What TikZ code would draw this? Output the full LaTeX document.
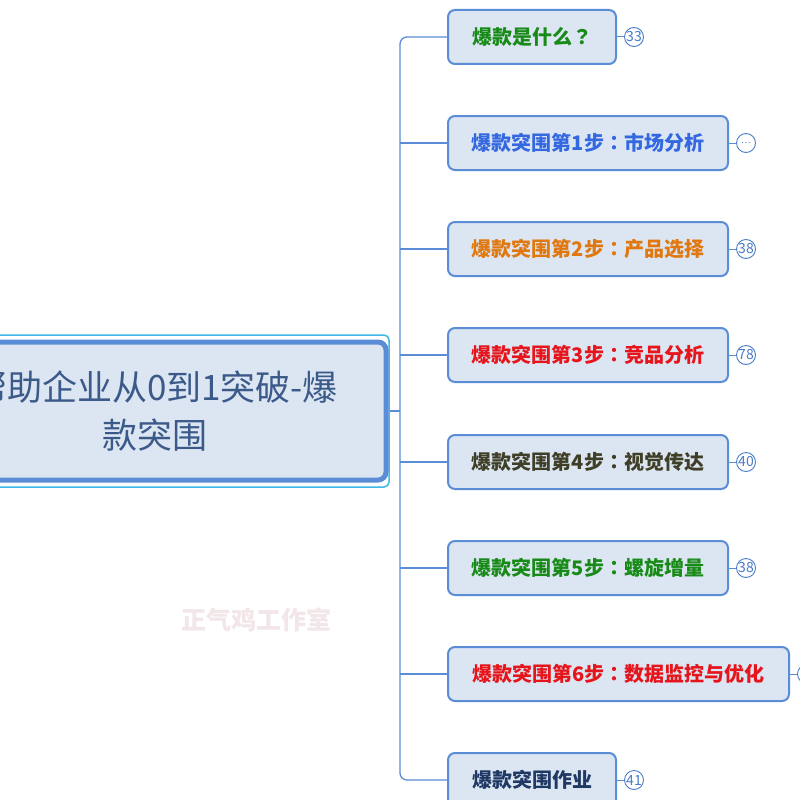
\documentclass[tikz,border=0pt]{standalone}
\usepackage{fontspec}
\setmainfont{Noto Sans CJK SC}
\newfontfamily\tcpunct{Noto Sans CJK TC}
\newcommand{\qcolon}{{\tcpunct ：}}
\newcommand{\qmark}{{\tcpunct ？}}
\definecolor{boxfill}{HTML}{DCE6F2}
\definecolor{boxline}{HTML}{5B8DD6}
\definecolor{framecyan}{HTML}{3DB8E8}
\definecolor{roottext}{HTML}{3B5A8A}
\definecolor{cgreen}{HTML}{178A17}
\definecolor{cblue}{HTML}{3368E0}
\definecolor{corange}{HTML}{E0780F}
\definecolor{cred}{HTML}{E6141B}
\definecolor{colive}{HTML}{3F3F28}
\definecolor{cnavy}{HTML}{1F3864}
\definecolor{badgeblue}{HTML}{4A7CC8}
\definecolor{wmark}{HTML}{F2E6E8}
\tikzset{
  topic/.style={draw=boxline, line width=2pt, fill=boxfill, rounded corners=7pt,
    minimum height=54pt, inner xsep=0pt, anchor=west, font=\fontsize{20}{22}\selectfont\bfseries},
  badge/.style={draw=badgeblue, line width=0.9pt, circle, minimum size=19pt, inner sep=0pt,
    text=badgeblue, font=\fontsize{14}{14}\selectfont},
  conn/.style={draw=boxline, line width=1.3pt},
  bconn/.style={draw=boxline, line width=1pt},
}
\begin{document}
\begin{tikzpicture}[x=1pt,y=-1pt]
\useasboundingbox (0,0) rectangle (800,800);
\clip (0,0) rectangle (800,800);
\fill[white] (0,0) rectangle (800,800);

% watermark
\node[text=wmark, font=\fontsize{25}{26}\selectfont\bfseries] (wm) at (256,620) {正气鸡工作室};

% root
\node[draw=framecyan, line width=1.5pt, rounded corners=5pt, minimum width=472pt, minimum height=152pt] (rootframe) at (153,411) {};
\node[draw=boxline, line width=5pt, fill=boxfill, rounded corners=8pt, minimum width=462pt, minimum height=138pt,
  text=roottext, align=center, font=\fontsize{35}{48}\selectfont] (root) at (155,411) {帮助企业从0到1突破-爆\\款突围};

% topics
\node[topic, minimum width=168pt, text=cgreen] (n1) at (447,37) {爆款是什么\qmark};
\node[topic, minimum width=280pt, text=cblue] (n2) at (447,143) {爆款突围第1步\qcolon 市场分析};
\node[topic, minimum width=280pt, text=corange] (n3) at (447,249) {爆款突围第2步\qcolon 产品选择};
\node[topic, minimum width=280pt, text=cred] (n4) at (447,355) {爆款突围第3步\qcolon 竞品分析};
\node[topic, minimum width=280pt, text=colive] (n5) at (447,462) {爆款突围第4步\qcolon 视觉传达};
\node[topic, minimum width=280pt, text=cgreen] (n6) at (447,568) {爆款突围第5步\qcolon 螺旋增量};
\node[topic, minimum width=341pt, text=cred] (n7) at (447,674) {爆款突围第6步\qcolon 数据监控与优化};
\node[topic, minimum width=168pt, text=cnavy] (n8) at (447,780) {爆款突围作业};

% badges
\node[badge] (b1) at ([xshift=17pt]n1.east) {33};
\node[badge, font=\fontsize{9}{9}\selectfont] (b2) at ([xshift=17pt]n2.east) {…};
\node[badge] (b3) at ([xshift=17pt]n3.east) {38};
\node[badge] (b4) at ([xshift=17pt]n4.east) {78};
\node[badge] (b5) at ([xshift=17pt]n5.east) {40};
\node[badge] (b6) at ([xshift=17pt]n6.east) {38};
\node[badge] (b7) at ([xshift=17pt]n7.east) {};
\node[badge] (b8) at ([xshift=17pt]n8.east) {41};
\foreach \i in {1,...,8} {\draw[bconn] (n\i.east) -- (b\i.west);}

% connectors
\coordinate (tm) at (400,411);
\draw[conn] (rootframe.east) -- (tm);
\draw[conn, rounded corners=7pt] (n1.west) -| (tm) |- (n8.west);
\foreach \i in {2,...,7} {\draw[conn] (n\i.west) -- (n\i.west -| tm);}
\end{tikzpicture}
\end{document}
